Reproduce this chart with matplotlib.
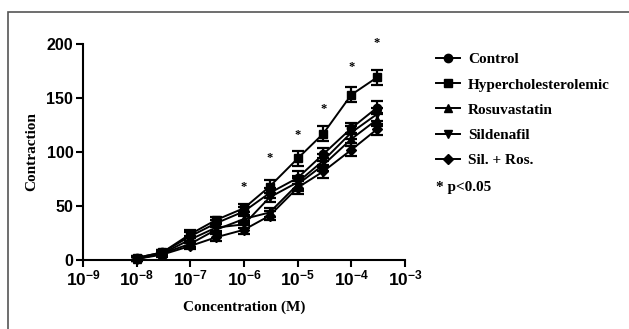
import matplotlib.pyplot as plt
from matplotlib.patches import Rectangle
from matplotlib.lines import Line2D

plt.rcParams['mathtext.fontset'] = 'custom'
plt.rcParams['mathtext.bf'] = 'Liberation Sans:bold'
plt.rcParams['mathtext.rm'] = 'Liberation Sans'

# concentrations (M)
conc = [1e-8, 3e-8, 1e-7, 3e-7, 1e-6, 3e-6, 1e-5, 3e-5, 1e-4, 3e-4]

# mean contraction per group
control = [2, 7, 22, 34, 45, 62, 76, 98, 122, 141]
hyper = [2, 7, 24, 37, 48, 68, 94, 117, 153, 169]
rosu = [1, 6, 15, 28, 38, 44, 70, 88, 112, 130]
silden = [1, 6, 19, 30, 33, 58, 72, 92, 118, 135]
silros = [1, 5, 13, 21, 28, 41, 67, 82, 102, 121]

# error bars (SEM)
err_control = [2, 2, 4, 3, 4, 5, 6, 6, 5, 6]
err_hyper = [2, 2, 4, 3, 4, 6, 7, 7, 7, 7]
err_rosu = [2, 2, 3, 3, 4, 4, 6, 6, 6, 6]
err_silden = [2, 2, 3, 3, 3, 4, 6, 6, 6, 6]
err_silros = [2, 2, 3, 3, 4, 4, 6, 6, 6, 5]

# significance stars
star_conc = [1e-6, 3e-6, 1e-5, 3e-5, 1e-4, 3e-4]
star_y = [68, 94, 116, 140, 179, 201]

names = ['Control', 'Hypercholesterolemic', 'Rosuvastatin', 'Sildenafil', 'Sil. + Ros.']
series = [control, hyper, rosu, silden, silros]
errs = [err_control, err_hyper, err_rosu, err_silden, err_silros]
markers = ['o', 's', '^', 'v', 'D']

serif = ['Liberation Serif', 'DejaVu Serif']
sans = ['Liberation Sans', 'DejaVu Sans']

fig = plt.figure(figsize=(6.29, 3.29), dpi=100)
# grey frame around the picture
fig.patches.append(Rectangle((8 / 629, -0.1), 1.0, 1 - 12 / 329 + 0.1, transform=fig.transFigure,
                             fill=False, edgecolor='#555555', linewidth=1.2))

ax = fig.add_axes([83 / 629, 1 - 260 / 329, 322 / 629, 216 / 329])

handles = []
for name, ys, e, m in zip(names, series, errs, markers):
    ms = 5 if m == 'D' else 6
    ax.errorbar(conc, ys, yerr=e, color='black', marker=m, markersize=ms, linewidth=1.4,
                capsize=4, capthick=1.6, elinewidth=1.6, clip_on=False, zorder=3)
    handles.append(Line2D([], [], color='black', marker=m, markersize=ms, linewidth=1.4, label=name))

for x, y in zip(star_conc, star_y):
    ax.text(x, y, '*', ha='center', va='center', fontsize=9, fontweight='bold', family=serif)

ax.set_xscale('log')
ax.set_xlim(1e-9, 1e-3)
ax.set_ylim(0, 200)
ax.set_yticks([0, 50, 100, 150, 200])
ticks = [10.0 ** k for k in range(-9, -2)]
ax.set_xticks(ticks)
ax.set_xticklabels([r'$\mathbf{10^{%d}}$' % k for k in range(-9, -2)])
ax.minorticks_off()
for s in ['top', 'right']:
    ax.spines[s].set_visible(False)
for s in ['left', 'bottom']:
    ax.spines[s].set_linewidth(1.5)
ax.tick_params(axis='y', direction='out', length=5, width=1.5, labelsize=11.5, pad=2)
ax.tick_params(axis='x', direction='out', length=5, width=1.5, labelsize=12.5, pad=2)
for lab in ax.get_yticklabels():
    lab.set_fontweight('bold')
    lab.set_family(sans)

ax.set_xlabel('Concentration (M)', fontsize=11, fontweight='bold', family=serif, labelpad=8)
ax.set_ylabel('Contraction', fontsize=11, fontweight='bold', family=serif, labelpad=6)

leg = fig.legend(handles=handles, loc='upper left', bbox_to_anchor=(422 / 629, 1 - 39 / 329),
                 frameon=False, handlelength=1.6, handletextpad=0.5, labelspacing=0.75,
                 prop={'family': serif, 'weight': 'bold', 'size': 11})
fig.text(436 / 629, 1 - 188 / 329, '* p<0.05', fontsize=11, fontweight='bold', family=serif,
         ha='left', va='center')

fig.savefig('out.png', dpi=100)
